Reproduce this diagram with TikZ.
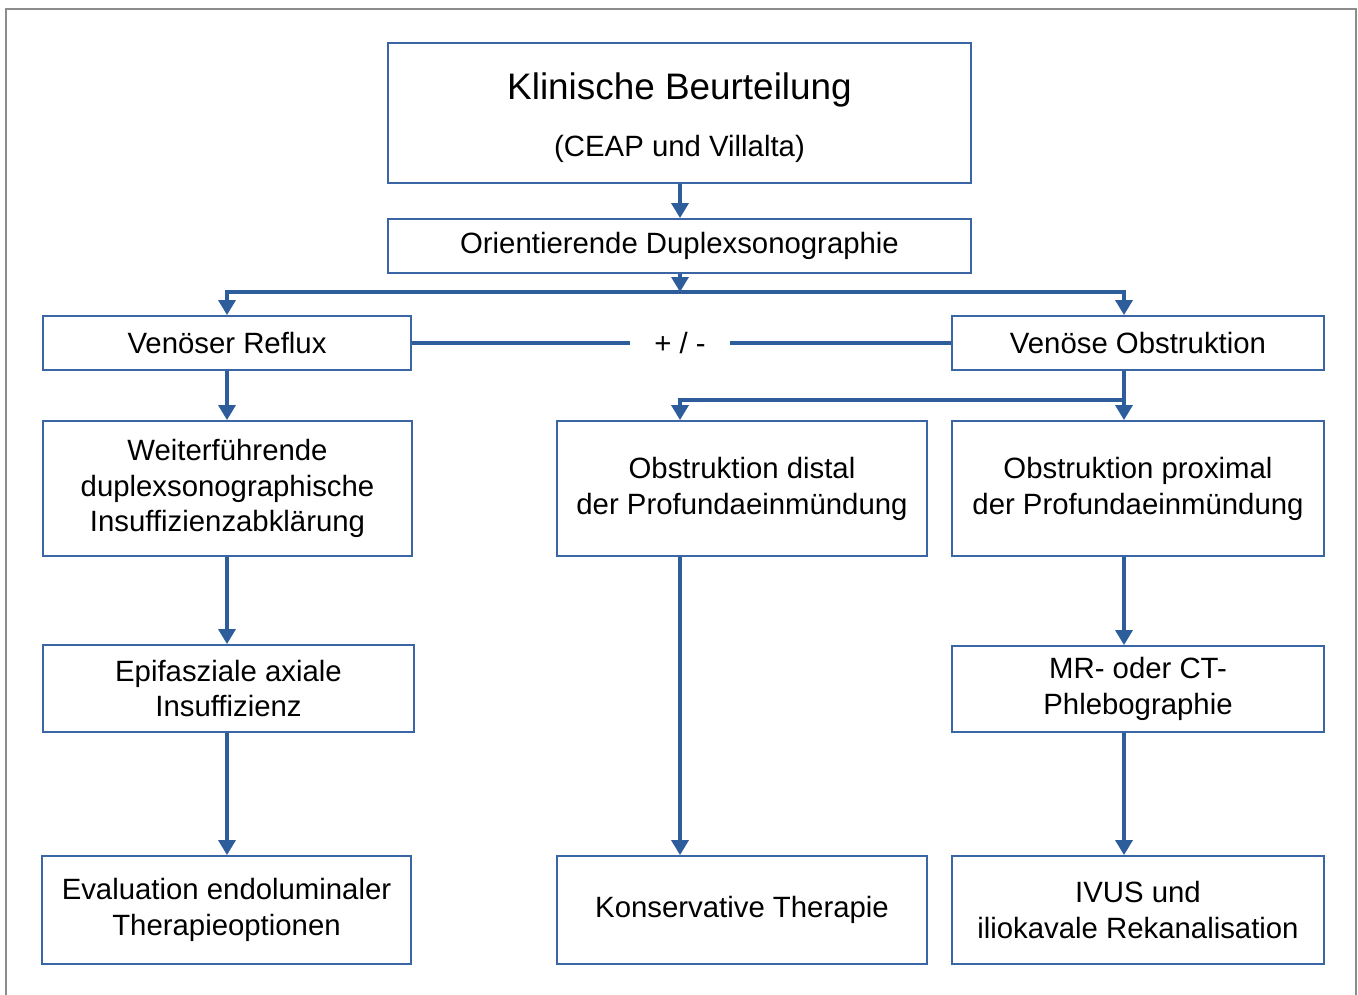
\documentclass[tikz,border=0pt]{standalone}
\usepackage{fontspec}
\setmainfont{Liberation Sans}
\usetikzlibrary{arrows.meta}
\definecolor{boxblue}{RGB}{58,102,165}
\definecolor{lineblue}{RGB}{46,93,155}
\definecolor{framegray}{RGB}{140,140,140}

\begin{document}
\begin{tikzpicture}[x=0.02cm, y=-0.02cm,
  box/.style={draw=boxblue, line width=1pt, align=center, inner sep=0pt,
    font=\fontsize{16.7}{20.4}\selectfont},
  link/.style={draw=lineblue, line width=2.4pt},
  arr/.style={link, -{Triangle[width=9.5pt,length=8.5pt]}}]
\useasboundingbox (0,0) rectangle (1358,994);
\draw[framegray, line width=1.2pt] (6,1010) -- (6,9) -- (1356,9) -- (1356,1010);

\node[box, minimum width=11.66cm, minimum height=2.8cm] (klin) at (679.5,113)
  {\fontsize{21}{25}\selectfont\rule{0pt}{21pt}Klinische Beurteilung\\[12pt]\fontsize{16.7}{25}\selectfont (CEAP und Villalta)};
\node[box, minimum width=11.66cm, minimum height=1.08cm] (orient) at (679.5,246) {Orientierende Duplexsonographie};
\node[box, minimum width=7.36cm, minimum height=1.08cm] (reflux) at (227,343) {Venöser Reflux};
\node[box, minimum width=7.44cm, minimum height=1.08cm] (obstr) at (1138,343) {Venöse Obstruktion};
\node[minimum width=1.98cm, inner sep=0pt, font=\fontsize{16.7}{20.4}\selectfont] (pm) at (680,343) {+ / -};
\node[box, minimum width=7.38cm, minimum height=2.7cm] (weiter) at (227.5,488.5)
  {Weiterführende\\duplexsonographische\\Insuffizienzabklärung};
\node[box, minimum width=7.4cm, minimum height=2.7cm] (distal) at (742,488.5)
  {Obstruktion distal\\der Profundaeinmündung};
\node[box, minimum width=7.44cm, minimum height=2.7cm] (proximal) at (1138,488.5)
  {Obstruktion proximal\\der Profundaeinmündung};
\node[box, minimum width=7.42cm, minimum height=1.74cm] (epi) at (228.5,688.5)
  {Epifasziale axiale\\Insuffizienz};
\node[box, minimum width=7.44cm, minimum height=1.72cm] (mrct) at (1138,689)
  {MR- oder CT-\\Phlebographie};
\node[box, minimum width=7.38cm, minimum height=2.16cm] (eval) at (226.5,910)
  {Evaluation endoluminaler\\Therapieoptionen};
\node[box, minimum width=7.4cm, minimum height=2.16cm] (konserv) at (742,910)
  {Konservative Therapie};
\node[box, minimum width=7.44cm, minimum height=2.16cm] (ivus) at (1138,910)
  {IVUS und\\iliokavale Rekanalisation};

\coordinate (colL) at (227,0);
\coordinate (colM) at (680,0);
\coordinate (colR) at (1124,0);
\coordinate (split) at (680,292);
\coordinate (split2) at (1124,400);

\draw[arr] (klin.south -| colM) -- (orient.north -| colM);
\draw[arr] (orient.south -| colM) -- (split);
\draw[arr] (split) -| (reflux.north -| colL);
\draw[arr] (split) -| (obstr.north -| colR);
\draw[link] (reflux.east) -- (pm.west);
\draw[link] (pm.east) -- (obstr.west);
\draw[arr] (reflux.south -| colL) -- (weiter.north -| colL);
\draw[arr] (obstr.south -| colR) -- (proximal.north -| colR);
\draw[arr] (split2) -| (distal.north -| colM);
\draw[arr] (weiter.south -| colL) -- (epi.north -| colL);
\draw[arr] (epi.south -| colL) -- (eval.north -| colL);
\draw[arr] (distal.south -| colM) -- (konserv.north -| colM);
\draw[arr] (proximal.south -| colR) -- (mrct.north -| colR);
\draw[arr] (mrct.south -| colR) -- (ivus.north -| colR);
\end{tikzpicture}
\end{document}
